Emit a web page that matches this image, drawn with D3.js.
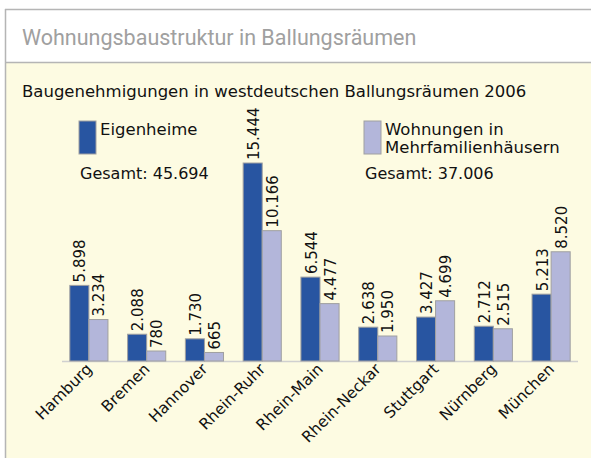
<!DOCTYPE html>
<html>
<head>
<meta charset="utf-8">
<script src="https://cdn.jsdelivr.net/npm/d3@7"></script>
<style>
  body { margin: 0; background: #fff; }
  svg { display: block; }
  .chart-title { font-family: Roboto, sans-serif; font-size: 21.5px; fill: #a0a0a0; }
  .sub-title { font-family: 'DejaVu Sans', sans-serif; font-size: 16.5px; fill: #111; }
  .legend-label { font-family: 'DejaVu Sans', sans-serif; font-size: 16.5px; fill: #111; }
  .total-label { font-family: 'DejaVu Sans', sans-serif; font-size: 16px; fill: #111; }
  .value-label { font-family: 'DejaVu Sans', sans-serif; font-size: 15px; fill: #111; }
  .cat-label { font-family: 'DejaVu Sans', sans-serif; font-size: 15.5px; fill: #111; }
</style>
</head>
<body>
<script>
// data
var cities = ['Hamburg', 'Bremen', 'Hannover', 'Rhein-Ruhr', 'Rhein-Main', 'Rhein-Neckar', 'Stuttgart', 'Nürnberg', 'München'];
var eigenheime = [5898, 2088, 1730, 15444, 6544, 2638, 3427, 2712, 5213];
var mehrfamilien = [3234, 780, 665, 10166, 4477, 1950, 4699, 2515, 8520];
var seriesNames = ['Eigenheime', 'Wohnungen in Mehrfamilienhäusern'];
var totals = ['Gesamt: 45.694', 'Gesamt: 37.006'];

var svgWidth = 591;
var svgHeight = 458;
var baseY = 361;
var topY = 163;

var BLUE = '#2855a1';
var LIGHT = '#b3b6da';

// german number format: 15.444
var fmt = d3.formatLocale({ decimal: ',', thousands: '.', grouping: [3], currency: ['', '€'] }).format(',d');

var svg = d3.select('body').append('svg')
  .attr('width', svgWidth)
  .attr('height', svgHeight);

// yellow panel and white header
svg.append('rect')
  .attr('x', 5).attr('y', 62)
  .attr('width', svgWidth - 5).attr('height', svgHeight - 62)
  .attr('fill', '#fdfbe2');

svg.append('rect')
  .attr('x', 5).attr('y', 9)
  .attr('width', svgWidth - 5).attr('height', 53)
  .attr('fill', '#fff');

// frame lines
svg.append('line')
  .attr('x1', 5.5).attr('x2', 5.5)
  .attr('y1', 9).attr('y2', svgHeight)
  .attr('stroke', '#b5b5b5').attr('stroke-width', 1.5);
svg.append('line')
  .attr('x1', 5).attr('x2', svgWidth)
  .attr('y1', 9.5).attr('y2', 9.5)
  .attr('stroke', '#b5b5b5').attr('stroke-width', 1.5);
svg.append('line')
  .attr('x1', 5).attr('x2', svgWidth)
  .attr('y1', 62.5).attr('y2', 62.5)
  .attr('stroke', '#b5b5b5').attr('stroke-width', 1.5);

svg.append('text')
  .attr('class', 'chart-title')
  .attr('x', 22).attr('y', 45)
  .text('Wohnungsbaustruktur in Ballungsräumen');

svg.append('text')
  .attr('class', 'sub-title')
  .attr('x', 22).attr('y', 97)
  .text('Baugenehmigungen in westdeutschen Ballungsräumen 2006');

// scales
var xScale = d3.scaleBand()
  .domain(cities)
  .range([60, 580])
  .paddingInner(0.34)
  .paddingOuter(0.17);

var xSub = d3.scaleBand()
  .domain([0, 1])
  .range([0, xScale.bandwidth()]);

var yScale = d3.scaleLinear()
  .domain([0, 15444])
  .range([baseY, topY]);

var rows = cities.map(function(c, i) {
  return { city: c, values: [eigenheime[i], mehrfamilien[i]] };
});

// baseline
svg.append('line')
  .attr('x1', 62).attr('x2', 578)
  .attr('y1', baseY + 0.5).attr('y2', baseY + 0.5)
  .attr('stroke', '#d0d0d0').attr('stroke-width', 1.5);

var groups = svg.selectAll('g.group')
  .data(rows)
  .enter()
  .append('g')
  .attr('class', 'group')
  .attr('transform', function(d) { return 'translate(' + xScale(d.city) + ',0)'; });

groups.selectAll('rect')
  .data(function(d) { return d.values.map(function(v, i) { return { v: v, i: i }; }); })
  .enter()
  .append('rect')
  .attr('x', function(d) { return xSub(d.i); })
  .attr('y', function(d) { return yScale(d.v); })
  .attr('width', xSub.bandwidth())
  .attr('height', function(d) { return baseY - yScale(d.v); })
  .attr('fill', function(d) { return d.i === 0 ? BLUE : LIGHT; })
  .attr('stroke', '#a0a0a0')
  .attr('stroke-width', 1);

// value labels, rotated
groups.selectAll('text.value-label')
  .data(function(d) { return d.values.map(function(v, i) { return { v: v, i: i }; }); })
  .enter()
  .append('text')
  .attr('class', 'value-label')
  .attr('transform', function(d) {
    var x = xSub(d.i) + xSub.bandwidth() - 3.5;
    var y = yScale(d.v) - 3;
    return 'translate(' + x + ',' + y + ') rotate(-90)';
  })
  .text(function(d) { return fmt(d.v); });

// category labels
svg.selectAll('text.cat-label')
  .data(cities)
  .enter()
  .append('text')
  .attr('class', 'cat-label')
  .attr('text-anchor', 'end')
  .attr('transform', function(d) {
    var x = xScale(d) + xScale.bandwidth() / 2 + 4;
    return 'translate(' + x + ',' + (baseY + 9) + ') rotate(-45)';
  })
  .text(function(d) { return d; });

// legend
var legendX = [79, 364];
[0, 1].forEach(function(i) {
  svg.append('rect')
    .attr('x', legendX[i]).attr('y', 121)
    .attr('width', 17).attr('height', 33)
    .attr('fill', i === 0 ? BLUE : LIGHT)
    .attr('stroke', '#a0a0a0');
});

svg.append('text')
  .attr('class', 'legend-label')
  .attr('x', 100).attr('y', 135)
  .text(seriesNames[0]);

var l2 = svg.append('text')
  .attr('class', 'legend-label')
  .attr('x', 385).attr('y', 135);
l2.append('tspan').attr('x', 385).text('Wohnungen in');
l2.append('tspan').attr('x', 385).attr('dy', 18).text('Mehrfamilienhäusern');

svg.append('text')
  .attr('class', 'total-label')
  .attr('x', 80).attr('y', 179)
  .text(totals[0]);

svg.append('text')
  .attr('class', 'total-label')
  .attr('x', 365).attr('y', 179)
  .text(totals[1]);
</script>
</body>
</html>
